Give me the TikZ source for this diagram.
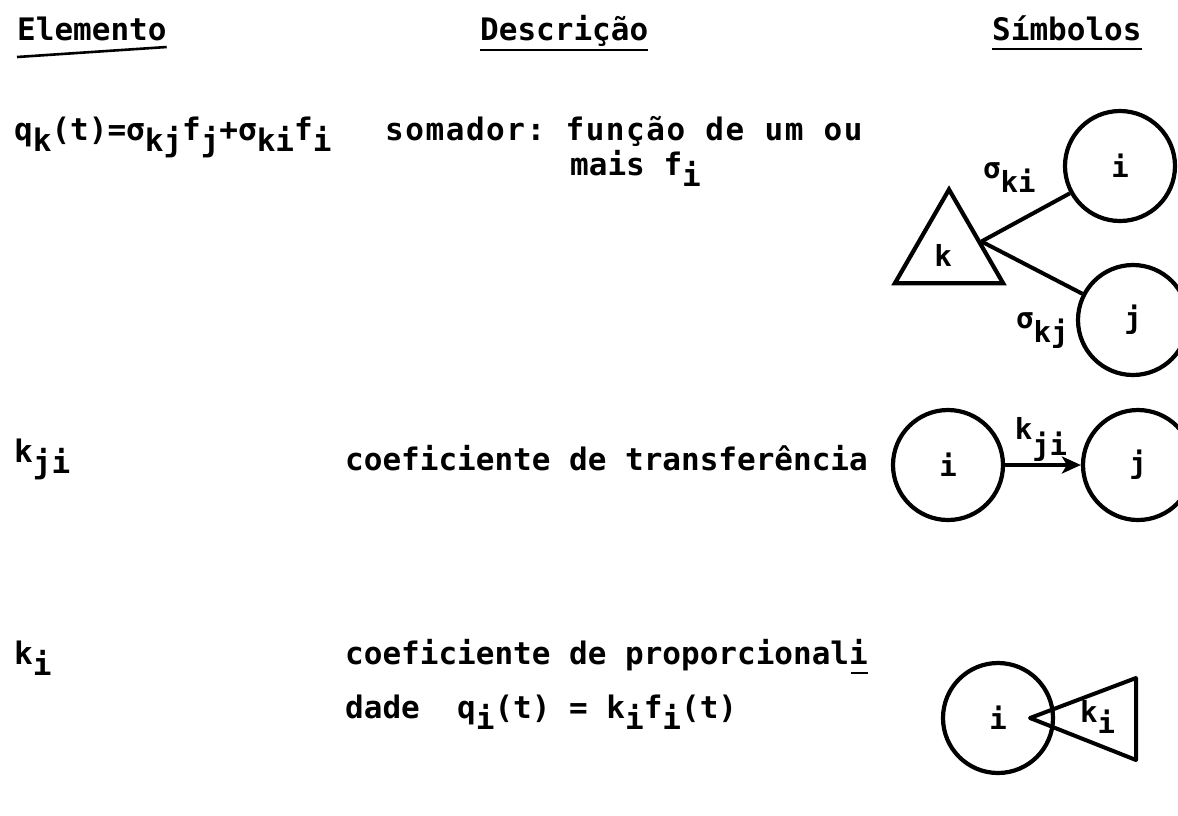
\documentclass[tikz,border=0pt]{standalone}
\usepackage{fontspec}
\newfontfamily\tw{DejaVu Sans Mono}
\usetikzlibrary{shapes.geometric,arrows.meta,calc}
\newcommand{\lw}[1]{\raisebox{-0.38em}{#1}}
\frenchspacing
\begin{document}
\begin{tikzpicture}[x=1pt,y=-1pt,
  txt/.style={font=\tw\bfseries\fontsize{31}{31}\selectfont, inner sep=0, anchor=base west},
  lbl/.style={font=\tw\bfseries\fontsize{29}{29}\selectfont, inner sep=0},
  comp/.style={circle, draw, line width=4.2pt, minimum size=110pt, inner sep=0,
    font=\tw\bfseries\fontsize{29}{29}\selectfont},
  sumtri/.style={regular polygon, regular polygon sides=3, draw, line width=4.2pt,
    minimum size=125pt, inner sep=0},
  wire/.style={line width=4pt},
  uline/.style={line width=2.6pt}]
\useasboundingbox (0,0) rectangle (1178,815);
\fill[white] (0,0) rectangle (1178,815);

% headings
\node[txt] (h1) at (17,40) {Elemento};
\node[txt] (h2) at (480,40) {Descrição};
\node[txt] (h3) at (992,40) {Símbolos};
\draw[uline] ($(h1.base west)+(0,17)$) -- ($(h1.base east)+(0,7)$);
\draw[uline] ($(h2.base west)+(0,10)$) -- ($(h2.base east)+(0,10)$);
\draw[uline] ($(h3.base west)+(0,9)$) -- ($(h3.base east)+(0,9)$);

% row 1
\node[txt] (e1) at (14,140) {q\lw{k}(t)=σ\lw{kj}f\lw{j}+σ\lw{ki}f\lw{i}};
\node[txt, font=\tw\bfseries\fontsize{31}{31}\selectfont\addfontfeature{LetterSpace=5}]
  (d1) at (385,140) {somador: função de um ou};
\node[txt] (d1b) at (570,175) {mais f\lw{i}};

\node[sumtri] (tk) at (949,252) {};
\node[lbl] (lk) at (943,255) {k};
\node[comp] (ci1) at (1120,166) {i};
\node[comp] (cj1) at (1133,320) {j};
\coordinate (kp) at (tk.18);
\draw[wire] (kp) -- (ci1);
\draw[wire] (kp) -- (cj1);
\node[lbl, anchor=base west] (ski) at (983,178) {σ\raisebox{-0.5em}{ki}};
\node[lbl, anchor=base west] (skj) at (1016,328) {σ\raisebox{-0.5em}{kj}};

% row 2
\node[txt] (e2) at (14,462) {k\lw{ji}};
\node[txt] (d2) at (345,470) {coeficiente de transferência};
\node[comp] (ci2) at (948,465) {i};
\node[comp] (cj2) at (1138,465) {j};
\draw[wire, -{Stealth[length=19pt,width=17pt,inset=5pt]}] (ci2) -- (cj2)
  node[lbl, midway, above=2pt, xshift=-2pt] (kji) {k\raisebox{-0.55em}{ji}};

% row 3
\node[txt] (e3) at (14,664) {k\lw{i}};
\node[txt] (d3) at (345,664) {coeficiente de proporcionali};
\node[txt] (d3b) at (345,718) {dade\ \ q\lw{i}(t) = k\lw{i}f\lw{i}(t)};
\draw[uline] ($(d3.base east)+(-17,9)$) -- ($(d3.base east)+(0,9)$);

\node[comp] (ci3) at (998,718) {i};
\coordinate (tip) at (1030,718);
\coordinate (tr) at (1136,678);
\coordinate (br) at (1136,760);
\draw[wire, line join=round] (tip) -- (tr) -- (br) -- cycle;
\node[lbl, anchor=base west] (ki3) at (1080,722) {k\raisebox{-0.4em}{i}};
\end{tikzpicture}
\end{document}
